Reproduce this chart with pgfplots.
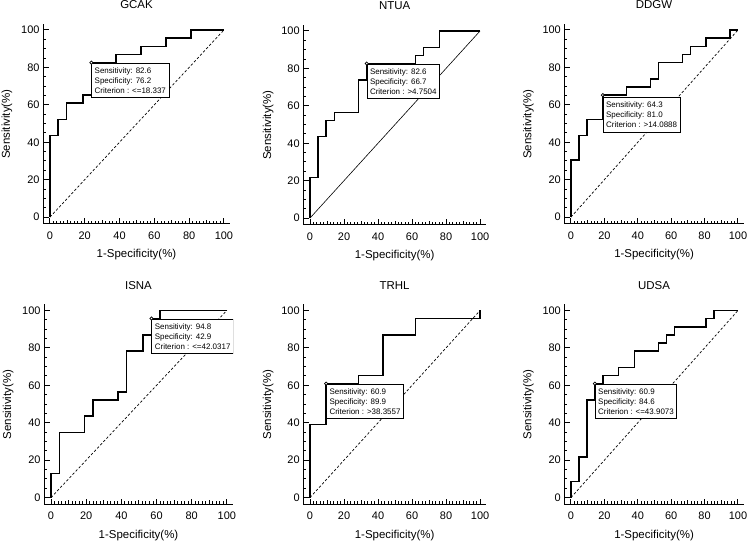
\documentclass[border=0pt]{standalone}
\usepackage{fontspec}
\setmainfont{Liberation Sans}
\usepackage{pgfplots}
\pgfplotsset{compat=1.18}

\pgfplotsset{
 rocaxis/.style={
  scale only axis, height=200bp,
  axis lines=left, axis line style={-, line width=1bp},
  xmin=-4, xmax=103.5, ymin=-3.7, ymax=103.2,
  xtick={0,20,...,100}, ytick={0,20,...,100},
  minor x tick num=9, minor y tick num=3,
  extra x ticks={10,30,50,70,90}, extra x tick labels={},
  extra x tick style={major tick length=4bp},
  xtick pos=bottom, ytick pos=left,
  xtick align=inside, ytick align=inside,
  major tick length=5.5bp, minor tick length=3bp,
  every tick/.style={black, line width=1bp},
  every tick label/.append style={font=\fontsize{11}{13}\selectfont},
  /pgf/number format/assume math mode=true,
  xticklabel style={yshift=-4bp},
  title style={at={(axis description cs:0.5,1.065)}, anchor=center, font=\fontsize{11.5}{13}\selectfont},
  xlabel={1-Specificity(\%)}, ylabel={Sensitivity(\%)},
  x label style={at={(axis description cs:0.5,-0.155)}, anchor=center, font=\fontsize{11.5}{13}\selectfont},
  y label style={anchor=center, font=\fontsize{11.5}{13}\selectfont},
 },
 roc/.style={black, line width=1.5bp, mark=none},
 diag/.style={black, line width=0.7bp, dash pattern=on 2.5bp off 2bp},
 diagsolid/.style={black, line width=0.6bp},
 crit/.style={only marks, mark=*, mark size=1.6bp, mark options={fill=white, draw=black, line width=0.7bp}},
}
\tikzset{
 annot/.style={draw=black, line width=0.7bp, fill=white, anchor=north west, align=left, inner xsep=3bp, inner ysep=4.5bp, font=\fontsize{8}{10}\selectfont},
}

\begin{document}
\begin{tikzpicture}
\useasboundingbox (0,0) rectangle (750bp,542bp);

% ---------- GCAK ----------
\begin{axis}[rocaxis, at={(43bp,318bp)}, anchor=south west, width=187bp, title={GCAK},
  y label style={at={(axis description cs:-0.193,0.5)}}]
\addplot[diag] coordinates {(0,0) (100,100)};
\addplot[roc] coordinates {(0,0)(0,43.5)(4.76,43.5)(4.76,52.2)(9.52,52.2)(9.52,60.9)(19.05,60.9)(19.05,65.2)(23.81,65.2)(23.81,82.6)(38.1,82.6)(38.1,87.0)(52.38,87.0)(52.38,91.3)(66.67,91.3)(66.67,95.7)(80.95,95.7)(80.95,100)(100,100)};
\node[annot] at (axis cs:23.81,82.6) {Sensitivity: 82.6\\Specificity: 76.2\\Criterion : <=18.337};
\addplot[crit] coordinates {(23.81,82.6)};
\end{axis}

% ---------- NTUA ----------
\begin{axis}[rocaxis, at={(303.2bp,317bp)}, anchor=south west, width=182.8bp, title={NTUA},
  y label style={at={(axis description cs:-0.1915,0.5)}}]
\addplot[diagsolid] coordinates {(0,0) (100,100)};
\addplot[roc] coordinates {(0,0)(0,21.7)(4.76,21.7)(4.76,43.5)(9.52,43.5)(9.52,52.2)(14.29,52.2)(14.29,56.5)(28.57,56.5)(28.57,73.9)(33.33,73.9)(33.33,82.6)(61.9,82.6)(61.9,87.0)(66.67,87.0)(66.67,91.3)(76.19,91.3)(76.19,100)(100,100)};
\node[annot] at (axis cs:33.33,82.6) {Sensitivity: 82.6\\Specificity: 66.7\\Criterion : >4.7504};
\addplot[crit] coordinates {(33.33,82.6)};
\end{axis}

% ---------- DDGW ----------
\begin{axis}[rocaxis, at={(564.3bp,318bp)}, anchor=south west, width=179.5bp, title={DDGW},
  y label style={at={(axis description cs:-0.2,0.5)}}]
\addplot[diag] coordinates {(0,0) (100,100)};
\addplot[roc] coordinates {(0,0)(0,30.4)(4.76,30.4)(4.76,43.5)(9.52,43.5)(9.52,52.2)(19.05,52.2)(19.05,65.2)(33.33,65.2)(33.33,69.6)(47.62,69.6)(47.62,73.9)(52.38,73.9)(52.38,82.6)(66.67,82.6)(66.67,87.0)(71.43,87.0)(71.43,91.3)(80.95,91.3)(80.95,95.7)(95.24,95.7)(95.24,100)(100,100)};
\node[annot] at (axis cs:19.05,64.3) {Sensitivity: 64.3\\Specificity: 81.0\\Criterion : >14.0888};
\addplot[crit] coordinates {(19.05,65.2)};
\end{axis}

% ---------- ISNA ----------
\begin{axis}[rocaxis, at={(44bp,37.5bp)}, anchor=south west, width=189bp, title={ISNA},
  y label style={at={(axis description cs:-0.19,0.5)}}]
\addplot[diag] coordinates {(0,0) (100,100)};
\addplot[roc] coordinates {(0,0)(0,13.0)(4.76,13.0)(4.76,34.8)(19.05,34.8)(19.05,43.5)(23.81,43.5)(23.81,52.2)(38.1,52.2)(38.1,56.5)(42.86,56.5)(42.86,78.3)(52.38,78.3)(52.38,87.0)(57.14,87.0)(57.14,95.7)(61.9,95.7)(61.9,100)(100,100)};
\node[annot] at (axis cs:57.14,95.7) {Sensitivity: 94.8\\Specificity: 42.9\\Criterion : <=42.0317};
\addplot[crit] coordinates {(57.14,95.7)};
\end{axis}

% ---------- TRHL ----------
\begin{axis}[rocaxis, at={(303.2bp,37.5bp)}, anchor=south west, width=182.8bp, title={TRHL},
  y label style={at={(axis description cs:-0.1915,0.5)}}]
\addplot[diag] coordinates {(0,0) (100,100)};
\addplot[roc] coordinates {(0,0)(0,39.1)(9.52,39.1)(9.52,60.9)(28.57,60.9)(28.57,65.2)(42.86,65.2)(42.86,87.0)(61.9,87.0)(61.9,95.7)(100,95.7)(100,100)};
\node[annot] at (axis cs:9.52,60.9) {Sensitivity: 60.9\\Specificity: 89.9\\Criterion : >38.3557};
\addplot[crit] coordinates {(9.52,60.9)};
\end{axis}

% ---------- UDSA ----------
\begin{axis}[rocaxis, at={(564.3bp,37.5bp)}, anchor=south west, width=179.5bp, title={UDSA},
  y label style={at={(axis description cs:-0.2,0.5)}}]
\addplot[diag] coordinates {(0,0) (100,100)};
\addplot[roc] coordinates {(0,0)(0,8.7)(4.76,8.7)(4.76,21.7)(9.52,21.7)(9.52,52.2)(14.29,52.2)(14.29,60.9)(19.05,60.9)(19.05,65.2)(28.57,65.2)(28.57,69.6)(38.1,69.6)(38.1,78.3)(52.38,78.3)(52.38,82.6)(57.14,82.6)(57.14,87.0)(61.9,87.0)(61.9,91.3)(80.95,91.3)(80.95,95.7)(85.71,95.7)(85.71,100)(100,100)};
\node[annot] at (axis cs:14.29,60.9) {Sensitivity: 60.9\\Specificity: 84.6\\Criterion : <=43.9073};
\addplot[crit] coordinates {(14.29,60.9)};
\end{axis}

\end{tikzpicture}
\end{document}
